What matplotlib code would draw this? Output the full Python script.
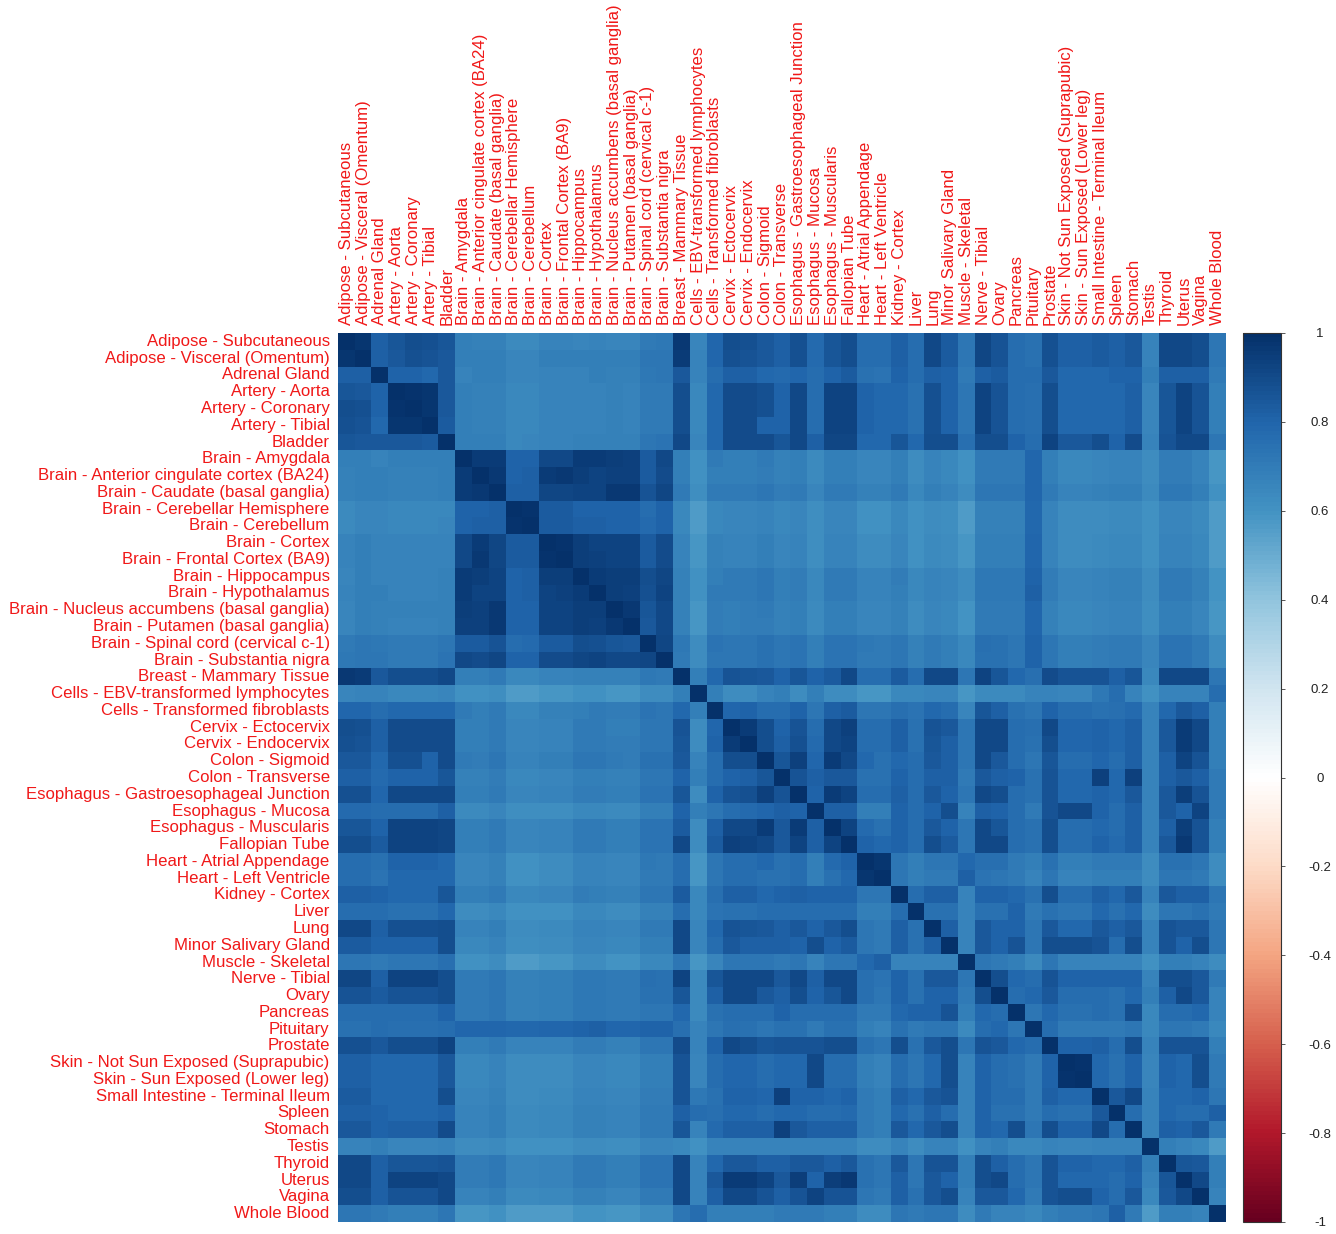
import numpy as np
import matplotlib
matplotlib.use("Agg")
import matplotlib.pyplot as plt
from matplotlib.colors import LinearSegmentedColormap

tissues = ["Adipose - Subcutaneous","Adipose - Visceral (Omentum)","Adrenal Gland","Artery - Aorta","Artery - Coronary","Artery - Tibial","Bladder",
"Brain - Amygdala","Brain - Anterior cingulate cortex (BA24)","Brain - Caudate (basal ganglia)","Brain - Cerebellar Hemisphere","Brain - Cerebellum","Brain - Cortex","Brain - Frontal Cortex (BA9)","Brain - Hippocampus","Brain - Hypothalamus","Brain - Nucleus accumbens (basal ganglia)","Brain - Putamen (basal ganglia)","Brain - Spinal cord (cervical c-1)","Brain - Substantia nigra",
"Breast - Mammary Tissue","Cells - EBV-transformed lymphocytes","Cells - Transformed fibroblasts","Cervix - Ectocervix","Cervix - Endocervix","Colon - Sigmoid","Colon - Transverse","Esophagus - Gastroesophageal Junction","Esophagus - Mucosa","Esophagus - Muscularis","Fallopian Tube","Heart - Atrial Appendage","Heart - Left Ventricle","Kidney - Cortex","Liver","Lung","Minor Salivary Gland","Muscle - Skeletal","Nerve - Tibial","Ovary","Pancreas","Pituitary","Prostate","Skin - Not Sun Exposed (Suprapubic)","Skin - Sun Exposed (Lower leg)","Small Intestine - Terminal Ileum","Spleen","Stomach","Testis","Thyroid","Uterus","Vagina","Whole Blood"]

# Upper triangle of the correlation matrix, in hundredths, one string per row
upper = [
"100 97 82 85 88 87 85 68 67 67 63 63 66 66 65 66 65 65 70 71 96 65 79 88 87 84 82 87 77 85 88 76 76 82 76 90 83 72 91 86 76 74 87 82 82 83 82 84 66 90 90 88 72",
"100 82 84 87 86 84 68 68 68 65 65 68 68 68 68 68 68 72 72 95 66 79 87 86 84 82 87 77 85 88 76 76 82 76 90 83 72 91 86 76 74 87 82 82 83 82 84 66 90 90 88 72",
"100 80 80 78 84 66 68 68 65 65 66 66 66 68 67 67 71 72 84 66 76 82 82 78 77 79 76 80 83 74 73 80 76 81 80 70 82 83 76 76 84 78 78 78 80 80 68 82 82 82 70",
"100 98 97 84 68 67 67 64 64 66 66 66 66 67 66 70 70 88 64 78 89 89 87 80 90 76 92 92 80 78 78 74 87 80 72 92 86 76 75 88 78 78 78 78 82 65 85 92 86 68",
"100 97 84 68 67 67 64 64 66 66 66 66 67 66 70 70 88 64 78 89 89 87 80 90 76 92 92 80 78 78 74 87 80 72 92 86 76 75 88 78 78 78 78 82 65 85 92 86 68",
"100 83 68 67 67 64 64 66 66 66 66 67 66 70 70 88 64 78 89 89 80 80 90 76 92 92 80 78 78 74 87 80 72 92 86 76 75 88 78 78 78 78 82 65 85 92 86 68",
"100 68 68 68 64 65 66 66 67 67 67 67 72 73 90 65 78 89 89 89 85 90 82 91 91 78 78 85 78 88 88 75 88 88 80 76 92 84 84 88 80 89 66 86 90 90 72",
"100 95 95 80 80 90 90 95 95 94 93 83 90 68 60 70 68 68 70 67 68 63 68 68 65 65 68 62 66 64 60 70 70 70 79 68 64 64 65 66 66 62 69 69 66 58",
"100 96 80 82 95 96 94 92 93 93 83 89 68 60 68 68 68 69 67 68 63 68 68 65 65 68 62 66 64 60 70 70 70 79 68 64 64 65 66 66 62 69 69 66 58",
"100 81 82 91 91 92 92 96 96 86 91 70 61 70 70 70 72 69 70 65 70 70 67 67 70 64 68 66 62 72 72 72 79 70 66 66 67 68 68 63 71 71 68 60",
"100 98 83 83 80 80 80 80 76 80 64 57 64 65 65 66 64 65 61 65 65 60 60 64 60 62 61 57 67 67 67 78 66 62 62 62 63 63 60 65 65 63 56",
"100 83 83 81 81 80 80 77 80 64 57 64 65 65 66 64 65 61 65 65 60 60 64 60 62 61 57 67 67 67 78 66 62 62 62 63 63 60 65 65 63 56",
"100 98 94 92 92 92 83 89 66 58 67 66 66 68 65 66 61 66 66 62 62 65 60 63 62 58 68 68 68 79 66 62 62 63 64 64 60 66 66 64 56",
"100 94 93 92 92 83 89 66 58 67 66 66 68 65 66 61 66 66 62 62 65 60 63 62 58 68 68 68 79 66 62 62 63 64 64 60 66 66 64 56",
"100 95 94 94 88 91 67 60 68 70 70 72 68 69 64 70 70 66 66 69 64 66 65 62 71 71 71 80 69 65 65 66 67 67 62 70 70 67 59",
"100 94 93 87 92 67 60 70 70 70 72 68 69 64 70 70 66 66 68 64 66 65 62 71 71 71 81 69 65 65 66 67 67 62 70 70 67 59",
"100 96 85 90 67 58 69 68 69 70 67 68 63 68 68 65 65 67 62 65 64 59 70 70 70 79 67 64 64 65 66 66 61 68 68 65 58",
"100 84 90 67 58 69 68 69 69 67 68 63 68 68 65 65 67 62 65 64 59 70 70 70 79 67 64 64 65 66 66 61 68 68 65 58",
"100 91 71 62 73 72 72 74 72 73 68 73 73 71 70 72 67 70 68 64 75 74 72 80 72 68 68 69 70 70 65 73 73 70 62",
"100 70 62 72 72 72 74 72 73 68 73 73 70 70 72 67 70 68 64 74 74 72 80 72 68 68 69 70 70 65 73 73 70 62",
"100 68 78 86 85 84 80 85 80 83 90 76 76 83 76 90 90 72 92 85 78 75 89 86 86 86 82 85 64 90 90 90 72",
"100 68 62 62 66 68 62 68 62 62 58 58 64 64 65 65 58 63 63 63 66 66 65 65 71 76 66 60 66 66 66 76",
"100 79 80 76 76 80 72 82 83 72 72 75 73 78 76 65 85 82 74 72 80 76 76 74 75 77 66 78 84 82 68",
"100 95 88 80 86 76 90 93 76 76 82 74 86 84 72 90 90 76 75 90 79 79 80 78 82 66 84 95 90 68",
"100 88 82 87 77 90 92 76 76 82 74 85 82 72 90 90 76 74 88 79 79 80 78 82 66 84 95 90 68",
"100 85 93 79 95 90 78 74 78 76 84 82 72 90 84 76 72 85 76 76 79 76 82 66 82 92 86 68",
"100 86 82 84 84 74 74 80 76 82 82 70 84 82 80 74 86 78 78 93 78 93 66 82 84 82 70",
"100 80 95 92 76 76 82 76 84 80 72 90 88 76 74 86 78 78 80 78 84 66 84 94 86 70",
"100 82 82 68 68 80 76 80 88 66 82 80 76 70 86 90 90 80 76 82 66 84 80 92 70",
"100 92 77 74 80 76 84 80 72 90 85 76 74 88 76 76 78 76 82 66 82 94 86 68",
"100 80 78 80 76 88 83 72 90 90 76 74 88 76 76 80 77 82 66 84 96 86 68",
"100 97 72 68 72 72 78 75 75 70 68 74 68 68 70 70 70 62 74 74 72 62",
"100 72 68 70 70 82 73 72 70 66 72 66 66 68 68 68 62 72 72 70 62",
"100 76 82 82 66 80 80 78 74 88 76 76 82 78 84 66 84 82 82 72",
"100 74 74 66 74 74 80 70 74 72 72 78 74 78 62 72 72 74 70",
"100 82 66 84 80 80 72 84 78 78 84 82 84 66 86 84 84 72",
"100 66 84 80 86 72 88 88 88 86 76 88 66 86 80 88 72",
"100 72 70 68 63 72 66 66 66 66 66 60 68 68 66 62",
"100 88 78 76 86 80 80 80 80 80 66 88 88 84 70",
"100 76 78 84 76 76 76 74 78 68 82 90 84 66",
"100 72 78 74 74 76 74 88 64 76 76 78 66",
"100 76 70 70 70 70 72 64 72 72 70 64",
"100 80 80 82 76 88 66 86 86 86 68",
"100 98 78 74 80 65 80 78 88 70",
"100 78 74 80 65 80 78 88 70",
"100 84 90 66 78 78 80 72",
"100 76 66 78 76 76 82",
"100 66 82 80 84 70",
"100 68 66 64 56",
"100 85 84 68",
"100 90 68",
"100 66",
"100",
]
colorbar_ticks = [1, 0.8, 0.6, 0.4, 0.2, 0, -0.2, -0.4, -0.6, -0.8, -1]
palette = ["#67001F","#B2182B","#D6604D","#F4A582","#FDDBC7","#FFFFFF","#D1E5F0","#92C5DE","#4393C3","#2166AC","#05316A"]

n = len(tissues)
corr = np.zeros((n, n))
for i, row in enumerate(upper):
    vals = [int(v) / 100 for v in row.split()]
    assert len(vals) == n - i, (i, len(vals))
    corr[i, i:] = vals
    corr[i:, i] = vals

W, H = 1336, 1234
cmap = LinearSegmentedColormap.from_list("rdbu", palette, N=200)
plt.rcParams["font.family"] = ["Liberation Sans", "DejaVu Sans"]
fig = plt.figure(figsize=(W / 100, H / 100), dpi=100)
ax = fig.add_axes([338 / W, 1 - 1222 / H, 888 / W, 889 / H])
im = ax.imshow(corr, cmap=cmap, vmin=-1, vmax=1, aspect="auto", interpolation="nearest")
ax.set_xticks(range(n))
ax.set_yticks(range(n))
ax.set_xticklabels(tissues, rotation=90, ha="center", va="bottom", color="#f01818", fontsize=12.1)
ax.set_yticklabels(tissues, color="#f01818", fontsize=12.1, va="center")
ax.xaxis.tick_top()
ax.tick_params(axis="both", length=0, pad=6)
for s in ax.spines.values():
    s.set_visible(False)

cax = fig.add_axes([1243 / W, 1 - 1222 / H, 38 / W, 889 / H])
cb = fig.colorbar(im, cax=cax, ticks=colorbar_ticks)
cb.ax.set_yticklabels([f"{t:g}" for t in colorbar_ticks], ha="center", fontsize=9.5, color="#222222")
cb.ax.tick_params(length=3, width=0.7, pad=25, color="#555555")
cb.outline.set_linewidth(0.8)
cb.outline.set_edgecolor("#333333")
fig.savefig("out.png", dpi=100)
